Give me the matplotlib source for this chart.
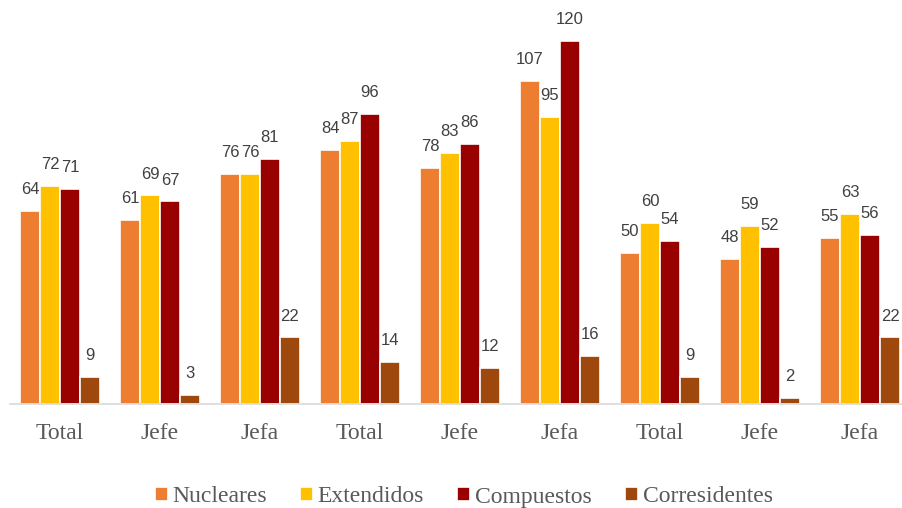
import numpy as np
import matplotlib.pyplot as plt

# household types by head of household, three survey blocks
categorias = ['Total', 'Jefe', 'Jefa', 'Total', 'Jefe', 'Jefa', 'Total', 'Jefe', 'Jefa']
nucleares = [64, 61, 76, 84, 78, 107, 50, 48, 55]
extendidos = [72, 69, 76, 87, 83, 95, 60, 59, 63]
compuestos = [71, 67, 81, 96, 86, 120, 54, 52, 56]
corresidentes = [9, 3, 22, 14, 12, 16, 9, 2, 22]

series = [
    ('Nucleares', nucleares, '#ED7D31'),
    ('Extendidos', extendidos, '#FFC000'),
    ('Compuestos', compuestos, '#990000'),
    ('Corresidentes', corresidentes, '#9E480E'),
]

fig = plt.figure(figsize=(9.02, 5.08), dpi=100)
ax = fig.add_axes([10 / 902, 104 / 508, 900 / 902, 393 / 508])

x = np.arange(len(categorias))
w = 0.2
for i, (nombre, vals, color) in enumerate(series):
    pos = x + (i - 1.5) * w
    bars = ax.bar(pos, vals, width=w, color=color, edgecolor='white',
                  linewidth=1.2, label=nombre, zorder=2)
    for b, v in zip(bars, vals):
        ax.annotate(str(v), xy=(b.get_x() + b.get_width() / 2, v),
                    xytext=(0, 10), textcoords='offset points',
                    ha='center', va='bottom', fontsize=12,
                    family='Liberation Sans', color='#404040')

ax.set_xlim(-0.5, len(categorias) - 0.5)
ax.set_ylim(0, 130)
ax.set_yticks([])
for s in ['top', 'right', 'left']:
    ax.spines[s].set_visible(False)
ax.spines['bottom'].set_color('#d9d9d9')
ax.spines['bottom'].set_linewidth(1.2)
ax.set_xticks(x)
ax.set_xticklabels(categorias, family='Liberation Serif', fontsize=17,
                   color='#595959')
ax.tick_params(axis='x', length=0, pad=14)

leg = fig.legend(loc='center', bbox_to_anchor=(0.514, 11 / 508), ncol=4,
                 frameon=False, handlelength=0.55, handleheight=0.55,
                 handletextpad=0.2, columnspacing=1.4, borderpad=0,
                 prop={'family': 'Liberation Serif', 'size': 17})
for t in leg.get_texts():
    t.set_color('#595959')

fig.savefig('out.png', dpi=100)
